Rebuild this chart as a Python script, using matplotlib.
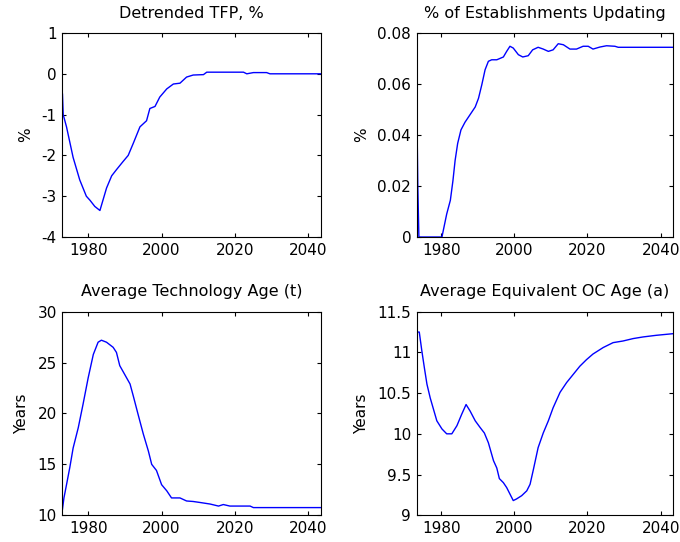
import numpy as np
import matplotlib
matplotlib.use("Agg")
import matplotlib.pyplot as plt

plt.rcParams['font.family'] = ['DejaVu Sans']
plt.rcParams['axes.unicode_minus'] = False

# Detrended TFP, %
tfp_year = [1973.0, 1973.2, 1974.1, 1975.9, 1977.7, 1979.5, 1980.5, 1981.8, 1983.2,
            1985.0, 1986.4, 1987.7, 1989.5, 1990.9, 1992.3, 1994.1, 1995.9, 1996.8,
            1998.2, 1999.5, 2001.4, 2003.2, 2005.0, 2006.8, 2008.6, 2011.4, 2012.3,
            2022.3, 2023.2, 2025.0, 2028.6, 2029.5, 2043.4]
tfp_val = [-0.5, -1.0, -1.3, -2.05, -2.6, -3.0, -3.1, -3.25, -3.35,
           -2.8, -2.5, -2.35, -2.15, -2.0, -1.7, -1.3, -1.15, -0.85,
           -0.8, -0.57, -0.37, -0.25, -0.23, -0.08, -0.03, -0.02, 0.04,
           0.04, 0.0, 0.03, 0.03, 0.0, 0.0]

# % of establishments updating
upd_year = [1973.2, 1973.3, 1973.6, 1973.9, 1980.2, 1981.5, 1982.5, 1983.2, 1983.8,
            1984.5, 1985.4, 1986.5, 1987.9, 1989.3, 1990.2, 1991.1, 1992.0, 1992.9,
            1993.8, 1995.2, 1997.0, 1997.9, 1998.8, 1999.7, 2001.1, 2002.3, 2003.8,
            2005.0, 2006.5, 2007.9, 2009.3, 2010.6, 2012.0, 2013.4, 2015.2, 2017.0,
            2018.8, 2020.2, 2021.5, 2023.4, 2025.2, 2027.5, 2028.4, 2043.4]
upd_val = [0.075, 0.055, 0.02, 0.0, 0.0, 0.009, 0.0144, 0.022, 0.030,
           0.0367, 0.042, 0.045, 0.048, 0.051, 0.0544, 0.0597, 0.0656, 0.0689,
           0.0695, 0.0695, 0.0706, 0.0728, 0.0748, 0.0741, 0.0715, 0.0706, 0.0711,
           0.0734, 0.0744, 0.0737, 0.0728, 0.0734, 0.0758, 0.0754, 0.0737, 0.0737,
           0.0748, 0.0748, 0.0737, 0.0745, 0.075, 0.0748, 0.0744, 0.0744]

# Average technology age (t)
tech_year = [1973.0, 1973.4, 1974.1, 1975.0, 1975.9, 1977.3, 1978.6, 1980.0, 1981.4,
             1982.7, 1983.6, 1985.0, 1986.8, 1987.7, 1988.6, 1990.0, 1991.4, 1992.3,
             1993.6, 1995.0, 1996.4, 1997.3, 1998.6, 2000.0, 2001.4, 2002.7, 2005.0,
             2006.8, 2008.6, 2010.5, 2013.2, 2015.5, 2016.8, 2018.6, 2024.1, 2025.0,
             2043.4]
tech_val = [10.6, 11.7, 13.0, 14.7, 16.6, 18.6, 20.9, 23.5, 25.8,
            27.0, 27.2, 27.0, 26.5, 26.0, 24.7, 23.8, 22.9, 21.7,
            19.9, 18.0, 16.3, 15.0, 14.4, 13.0, 12.4, 11.7, 11.7,
            11.4, 11.35, 11.25, 11.1, 10.9, 11.05, 10.9, 10.9, 10.75,
            10.75]

# Average equivalent OC age (a)
oc_year = [1973.2, 1974.0, 1974.7, 1975.4, 1976.1, 1977.0, 1977.9, 1978.8, 1980.2,
           1981.5, 1982.9, 1984.3, 1985.6, 1986.8, 1987.9, 1989.3, 1990.6, 1991.8,
           1992.9, 1994.3, 1995.2, 1995.9, 1997.0, 1997.9, 1998.8, 1999.7, 2000.6,
           2002.0, 2003.4, 2004.3, 2005.2, 2006.5, 2007.9, 2009.3, 2010.6, 2012.5,
           2014.3, 2016.1, 2017.9, 2019.7, 2021.5, 2024.3, 2027.0, 2029.7, 2032.5,
           2035.2, 2038.8, 2043.4]
oc_val = [11.25, 11.25, 11.02, 10.81, 10.61, 10.44, 10.3, 10.16, 10.06,
          10.0, 10.0, 10.1, 10.24, 10.36, 10.28, 10.16, 10.08, 10.01,
          9.89, 9.67, 9.58, 9.45, 9.4, 9.34, 9.26, 9.18, 9.2,
          9.24, 9.3, 9.38, 9.56, 9.83, 10.01, 10.16, 10.32, 10.51,
          10.63, 10.73, 10.83, 10.91, 10.98, 11.06, 11.12, 11.14, 11.17,
          11.19, 11.21, 11.23]

fig = plt.figure(figsize=(6.8, 5.42), dpi=100)

panels = [
    ([0.0916, 0.5627, 0.3804, 0.3764], tfp_year, tfp_val, "Detrended TFP, %", "%",
     (-4, 1), [-4, -3, -2, -1, 0, 1], (1972.95, 2043.4), None),
    ([0.6128, 0.5627, 0.3770, 0.3764], upd_year, upd_val, "% of Establishments Updating", "%",
     (0, 0.08), [0, 0.02, 0.04, 0.06, 0.08], (1973.3, 2043.4), ["0", "0.02", "0.04", "0.06", "0.08"]),
    ([0.0916, 0.0494, 0.3804, 0.3755], tech_year, tech_val, "Average Technology Age (t)", "Years",
     (10, 30), [10, 15, 20, 25, 30], (1972.95, 2043.4), None),
    ([0.6128, 0.0494, 0.3770, 0.3755], oc_year, oc_val, "Average Equivalent OC Age (a)", "Years",
     (9, 11.5), [9, 9.5, 10, 10.5, 11, 11.5], (1973.3, 2043.4), ["9", "9.5", "10", "10.5", "11", "11.5"]),
]

for rect, xs, ys, title, ylab, ylim, yticks, xlim, ylabels in panels:
    ax = fig.add_axes(rect)
    ax.plot(xs, ys, color='#0000ff', lw=1.0)
    ax.set_xlim(*xlim)
    ax.set_ylim(*ylim)
    ax.set_xticks([1980, 2000, 2020, 2040])
    ax.set_yticks(yticks)
    if ylabels is not None:
        ax.set_yticklabels(ylabels)
    ax.tick_params(direction='in', length=3, width=0.8, top=True, right=True,
                   labelsize=11, pad=4)
    for s in ax.spines.values():
        s.set_linewidth(0.8)
    ax.set_title(title, fontsize=11.5, pad=11)
    ax.set_ylabel(ylab, fontsize=11, labelpad=6)

fig.savefig("out.png", dpi=100)
